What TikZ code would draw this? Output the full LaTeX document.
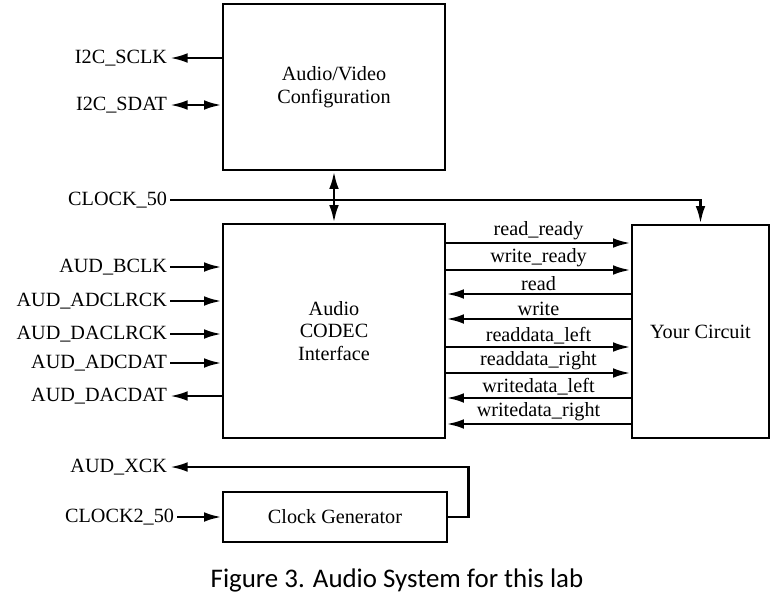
\documentclass[tikz,border=0pt]{standalone}
\usepackage{fontspec}
\setmainfont{Liberation Serif}
\newfontfamily\captionfont{Carlito}
\usetikzlibrary{arrows.meta, positioning, calc}

\begin{document}
\begin{tikzpicture}[
  x=0.02cm, y=-0.02cm,
  block/.style={
    rectangle, draw, line width=1.6pt, inner sep=0pt,
    align=center, font=\fontsize{11.5}{13}\selectfont
  },
  pinlbl/.style={anchor=east, inner sep=1.5pt, font=\fontsize{11.5}{13}\selectfont},
  siglbl/.style={above, inner sep=1pt, font=\fontsize{11.5}{13}\selectfont},
  sig/.style={-{Latex[length=10pt,width=5.5pt]}, line width=1.5pt},
  bisig/.style={{Latex[length=10pt,width=5.5pt]}-{Latex[length=10pt,width=5.5pt]}, line width=1.5pt},
]
  \useasboundingbox (0,0) rectangle (779,600);

  % blocks
  \node[block, minimum width=4.44cm, minimum height=3.32cm] (avcfg)   at (334,87)    {Audio/Video\\Configuration};
  \node[block, minimum width=4.44cm, minimum height=4.28cm] (codec)   at (334,331)   {Audio\\CODEC\\Interface};
  \node[block, minimum width=2.74cm, minimum height=4.26cm] (circuit) at (700.5,331.5) {Your Circuit};
  \node[block, minimum width=4.48cm, minimum height=1.0cm]  (clkgen)  at (335,517)   {Clock Generator};

  % pins on the left
  \node[pinlbl] (sclk)    at (170,58)  {I2C\_SCLK};
  \node[pinlbl] (sdat)    at (170,105) {I2C\_SDAT};
  \node[pinlbl] (clk50)   at (170,200) {CLOCK\_50};
  \node[pinlbl] (bclk)    at (170,267) {AUD\_BCLK};
  \node[pinlbl] (adclrck) at (170,301) {AUD\_ADCLRCK};
  \node[pinlbl] (daclrck) at (170,334) {AUD\_DACLRCK};
  \node[pinlbl] (adcdat)  at (170,363) {AUD\_ADCDAT};
  \node[pinlbl] (dacdat)  at (170,396) {AUD\_DACDAT};
  \node[pinlbl] (xck)     at (170,467) {AUD\_XCK};
  \node[pinlbl] (clk250)  at (177,517) {CLOCK2\_50};

  \draw[sig]   (avcfg.west |- sclk.east) -- (sclk.east);
  \draw[bisig] (sdat.east) -- (avcfg.west |- sdat.east);
  \draw[sig]   (clk50.east) -| (circuit.north);
  \draw[bisig] (avcfg.south) -- (codec.north);
  \draw[sig]   (bclk.east) -- (codec.west |- bclk.east);
  \draw[sig]   (adclrck.east) -- (codec.west |- adclrck.east);
  \draw[sig]   (daclrck.east) -- (codec.west |- daclrck.east);
  \draw[sig]   (adcdat.east) -- (codec.west |- adcdat.east);
  \draw[sig]   (codec.west |- dacdat.east) -- (dacdat.east);
  \draw[sig]   (clkgen.east) -- ++(20,0) |- (xck.east);
  \draw[sig]   (clk250.east) -- (clkgen.west);

  % codec <-> your circuit
  \draw[sig] (codec.east |- 0,243) -- (circuit.west |- 0,243) node[midway, siglbl] {read\_ready};
  \draw[sig] (codec.east |- 0,270) -- (circuit.west |- 0,270) node[midway, siglbl] {write\_ready};
  \draw[sig] (circuit.west |- 0,294) -- (codec.east |- 0,294) node[midway, siglbl] {read};
  \draw[sig] (circuit.west |- 0,319) -- (codec.east |- 0,319) node[midway, siglbl] {write};
  \draw[sig] (codec.east |- 0,347) -- (circuit.west |- 0,347) node[midway, siglbl] {readdata\_left};
  \draw[sig] (codec.east |- 0,373) -- (circuit.west |- 0,373) node[midway, siglbl] {readdata\_right};
  \draw[sig] (circuit.west |- 0,398) -- (codec.east |- 0,398) node[midway, siglbl] {writedata\_left};
  \draw[sig] (circuit.west |- 0,424) -- (codec.east |- 0,424) node[midway, siglbl] {writedata\_right};

  \node[font=\captionfont\fontsize{15.3}{17}\selectfont] (caption) at (397,580) {Figure 3. Audio System for this lab};
\end{tikzpicture}
\end{document}
